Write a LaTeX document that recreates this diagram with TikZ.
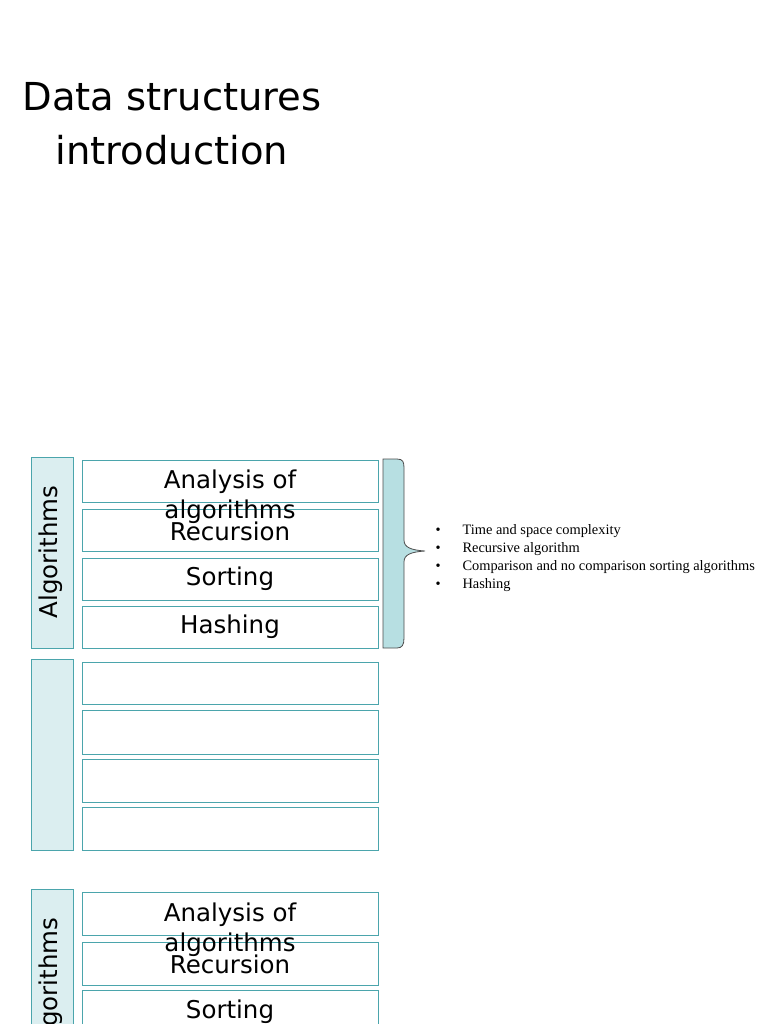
\documentclass[tikz,border=0pt]{standalone}
\usepackage{fontspec}
\setmainfont{DejaVu Sans}
\newfontfamily\bulletfont{Liberation Serif}
\definecolor{tealline}{RGB}{75,165,172}
\definecolor{stripfill}{RGB}{219,238,240}
\definecolor{bracefill}{RGB}{183,223,226}
\tikzset{
  topicbox/.style={draw=tealline, fill=white, line width=0.8pt},
  groupstrip/.style={draw=tealline, fill=stripfill, line width=0.8pt},
  boxlabel/.style={font=\fontsize{24.5}{30}\selectfont, align=center}
}
\begin{document}
\begin{tikzpicture}[x=1pt, y=-1pt]
  \useasboundingbox (0,0) rectangle (768,1024);
  \clip (0,0) rectangle (768,1024);
  % title
  \node[font=\fontsize{38.5}{54}\selectfont, align=center] (title) at (172,124) {Data structures\\introduction};
  % first group
  \draw[groupstrip] (31,457) rectangle (73,648);
  \node[rotate=90, boxlabel] (alg1) at (51,552) {Algorithms};
  \draw[topicbox] (82,460) rectangle (378,502);
  \draw[topicbox] (82,509) rectangle (378,551);
  \draw[topicbox] (82,558) rectangle (378,600);
  \draw[topicbox] (82,606) rectangle (378,648);
  \node[boxlabel] (ana1) at (230,497) {Analysis of\\algorithms};
  \node[boxlabel] (rec1) at (230,531) {Recursion};
  \node[boxlabel] (sor1) at (230,579) {Sorting};
  \node[boxlabel] (has1) at (230,627) {Hashing};
  % brace
  \draw[fill=bracefill, draw=black!70, line width=0.8pt] (383,459) -- (397,459)
    .. controls (403,459) and (404,462) .. (404,468) -- (404,540)
    .. controls (404,547) and (410,550) .. (425,551)
    .. controls (410,552) and (404,555) .. (404,562) -- (404,638)
    .. controls (404,645) and (402,648) .. (397,648) -- (383,648) -- cycle;
  \node[anchor=west, align=left, font=\bulletfont\fontsize{14.4}{17.8}\selectfont] (notes) at (432,558)
    {\makebox[27pt][l]{•}Time and space complexity\\
     \makebox[27pt][l]{•}Recursive algorithm\\
     \makebox[27pt][l]{•}Comparison and no comparison sorting algorithms\\
     \makebox[27pt][l]{•}Hashing};
  % second group
  \draw[groupstrip] (31,659) rectangle (73,850);
  \draw[topicbox] (82,662) rectangle (378,704);
  \draw[topicbox] (82,710) rectangle (378,754);
  \draw[topicbox] (82,759) rectangle (378,802);
  \draw[topicbox] (82,807) rectangle (378,850);
  % third group
  \draw[groupstrip] (31,889) rectangle (73,1080);
  \node[rotate=90, boxlabel] (alg2) at (51,984) {Algorithms};
  \draw[topicbox] (82,892) rectangle (378,935);
  \draw[topicbox] (82,942) rectangle (378,985);
  \draw[topicbox] (82,990) rectangle (378,1033);
  \node[boxlabel] (ana2) at (230,930) {Analysis of\\algorithms};
  \node[boxlabel] (rec2) at (230,964) {Recursion};
  \node[boxlabel] (sor2) at (230,1012) {Sorting};
\end{tikzpicture}
\end{document}
